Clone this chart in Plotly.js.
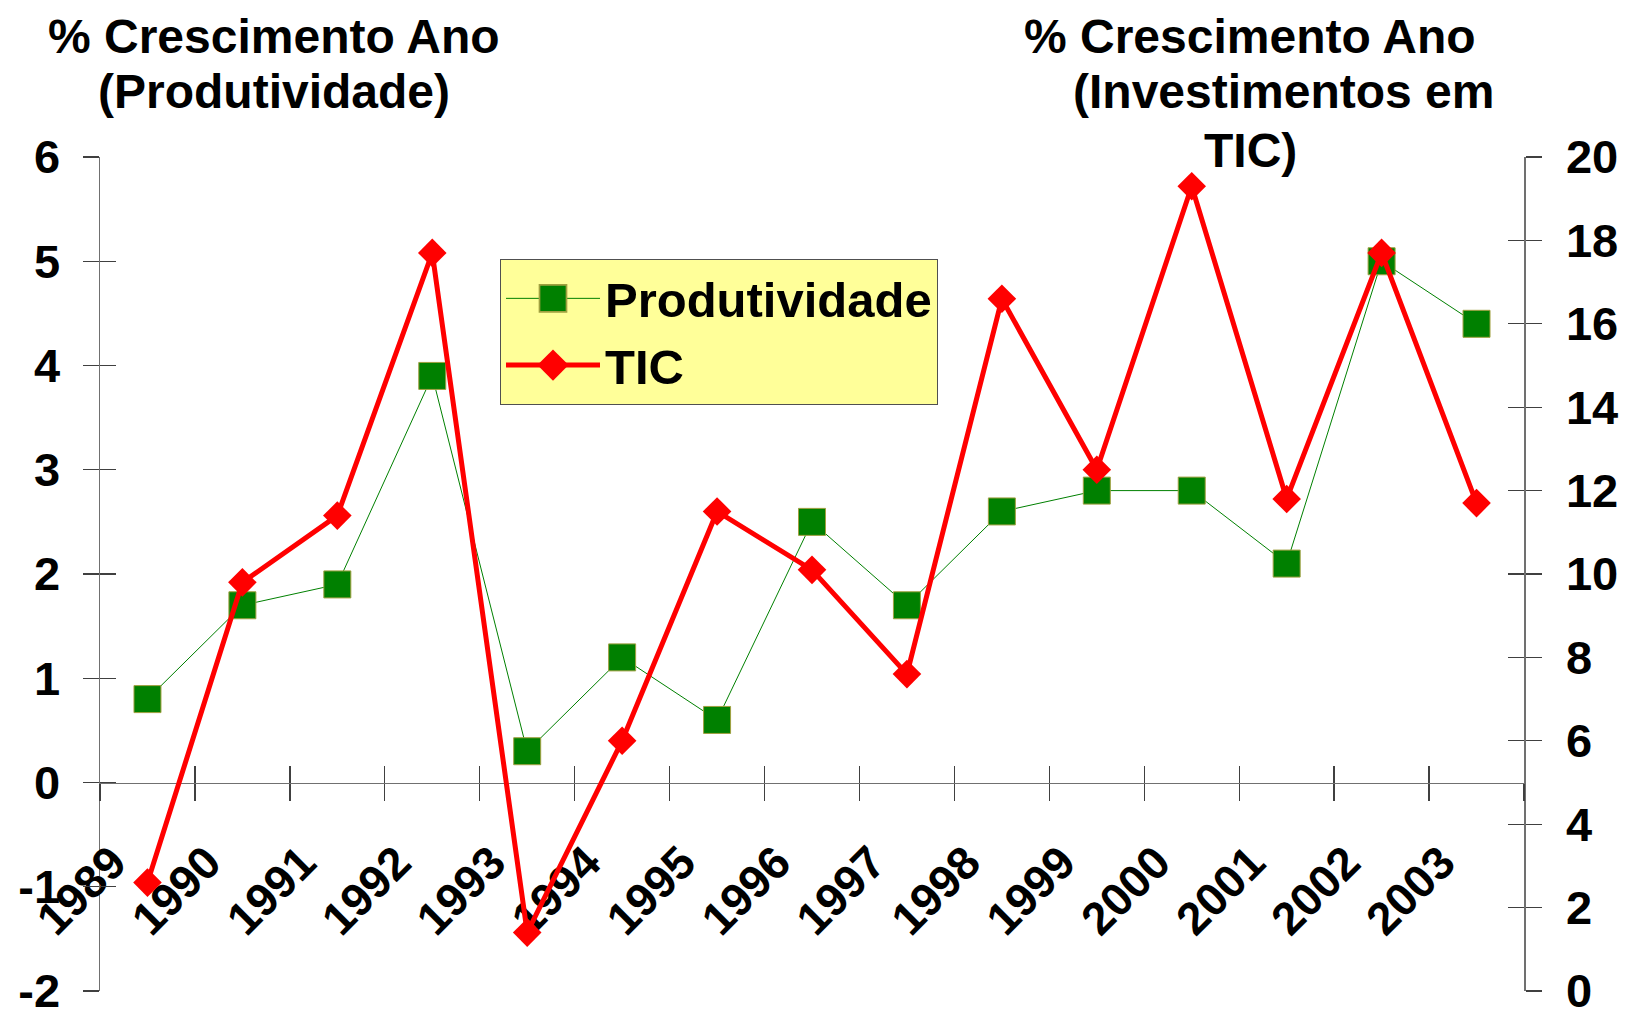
<!DOCTYPE html>
<html>
<head>
<meta charset="utf-8">
<script src="https://cdn.plot.ly/plotly-3.0.1.min.js"></script>
<style>
  html, body { margin: 0; padding: 0; background: #ffffff; }
  #chart { width: 1630px; height: 1017px; }
</style>
</head>
<body>
<div id="chart"></div>
<script>
// ---- data ----
const years = ['1989','1990','1991','1992','1993','1994','1995','1996','1997','1998','1999','2000','2001','2002','2003'];
const produtividade = [0.8, 1.7, 1.9, 3.9, 0.3, 1.2, 0.6, 2.5, 1.7, 2.6, 2.8, 2.8, 2.1, 5.0, 4.4];
const tic = [2.6, 9.8, 11.4, 17.7, 1.4, 6.0, 11.5, 10.1, 7.6, 16.6, 12.5, 19.3, 11.8, 17.7, 11.7];
const seriesNames = ['Produtividade', 'TIC'];
const leftTickVals = [-2, -1, 0, 1, 2, 3, 4, 5, 6];
const leftTickText = ['-2', '-1', '0', '1', '2', '3', '4', '5', '6'];
const rightTickVals = [0, 2, 4, 6, 8, 10, 12, 14, 16, 18, 20];
const rightTickText = ['0', '2', '4', '6', '8', '10', '12', '14', '16', '18', '20'];
const leftTitleLines = ['% Crescimento Ano', '(Produtividade)'];
const rightTitleLines = ['% Crescimento Ano', '(Investimentos em', 'TIC)'];

const FONT = 'Liberation Sans, Arial, sans-serif';
const empty = years.map(() => null);

const traces = [
  {
    type: 'scatter', mode: 'lines+markers', name: seriesNames[0],
    x: years, y: produtividade, xaxis: 'x', yaxis: 'y',
    line: { color: '#008000', width: 1 },
    marker: { symbol: 'square', size: 27, color: '#008000', line: { color: '#a0a040', width: 1 } },
    legendgroup: 'a', cliponaxis: false
  },
  {
    type: 'scatter', mode: 'lines+markers', name: seriesNames[1],
    x: years, y: tic, xaxis: 'x', yaxis: 'y2',
    line: { color: '#ff0000', width: 5 },
    marker: { symbol: 'diamond', size: 22, color: '#ff0000' },
    legendgroup: 'b', cliponaxis: false
  },
  // empty helper traces so the inner-tick overlay axes are drawn
  { type: 'scatter', mode: 'lines', x: years, y: empty, xaxis: 'x2', yaxis: 'y3', showlegend: false, hoverinfo: 'skip' },
  { type: 'scatter', mode: 'lines', x: years, y: empty, xaxis: 'x2', yaxis: 'y4', showlegend: false, hoverinfo: 'skip' }
];

const axisLine = '#707070';
const tickCol = '#404040';
const baseX = {
  type: 'category', categoryorder: 'array', categoryarray: years,
  range: [-0.5, years.length - 0.5], anchor: 'free', position: 0.25,
  tickson: 'boundaries', ticklen: 17, tickwidth: 1.3, tickcolor: tickCol,
  showgrid: false, zeroline: false, layer: 'below traces', fixedrange: true
};
const tickFontY = { family: FONT, size: 47, color: '#000', weight: 'bold' };

const annotations = [];
const titleFont = { family: FONT, size: 48, color: '#000', weight: 'bold' };
const leftY = [1.1446, 1.078];
leftTitleLines.forEach((t, i) => annotations.push({
  text: t, xref: 'paper', yref: 'paper', x: (274 - 100) / 1424, y: leftY[i],
  xanchor: 'center', yanchor: 'middle', showarrow: false, font: titleFont
}));
const rightX = [1250, 1283, 1250];
const rightY = [1.1446, 1.078, 1.008];
rightTitleLines.forEach((t, i) => annotations.push({
  text: t, xref: 'paper', yref: 'paper', x: (rightX[i] - 100) / 1424, y: rightY[i],
  xanchor: 'center', yanchor: 'middle', showarrow: false, font: titleFont
}));

const layout = {
  width: 1630, height: 1017,
  margin: { l: 100, r: 106, t: 157, b: 26, pad: 0 },
  paper_bgcolor: '#ffffff', plot_bgcolor: 'rgba(0,0,0,0)',
  font: { family: FONT, color: '#000' },
  showlegend: true,
  legend: {
    x: (500 - 100) / 1424, y: (991 - 259) / 834, xanchor: 'left', yanchor: 'top',
    bgcolor: '#ffff99', bordercolor: '#505050', borderwidth: 1,
    font: { family: FONT, size: 49, color: '#000', weight: 'bold' },
    itemwidth: 94, tracegroupgap: 0, traceorder: 'normal'
  },
  xaxis: Object.assign({}, baseX, {
    ticks: 'outside', showline: true, linecolor: axisLine, linewidth: 1.5,
    tickangle: -45, ticklabelstandoff: 33, ticklabelshift: -35, ticklabeloverflow: 'allow',
    tickfont: { family: FONT, size: 46, color: '#000', weight: 'bold' }
  }),
  xaxis2: Object.assign({}, baseX, {
    overlaying: 'x', ticks: 'inside', showline: false, showticklabels: false
  }),
  yaxis: {
    range: [-2, 6], tickmode: 'array', tickvals: leftTickVals, ticktext: leftTickText,
    ticks: 'outside', ticklen: 16, tickwidth: 1.3, tickcolor: tickCol,
    showline: true, linecolor: axisLine, linewidth: 1.5, showgrid: false, zeroline: false,
    ticklabelstandoff: 13, ticklabeloverflow: 'allow', layer: 'below traces', fixedrange: true,
    tickfont: tickFontY
  },
  yaxis2: {
    overlaying: 'y', side: 'right', anchor: 'x',
    range: [0, 20], tickmode: 'array', tickvals: rightTickVals, ticktext: rightTickText,
    ticks: 'outside', ticklen: 16, tickwidth: 1.3, tickcolor: tickCol,
    showline: true, linecolor: axisLine, linewidth: 1.5, showgrid: false, zeroline: false,
    ticklabelstandoff: 15, ticklabeloverflow: 'allow', layer: 'below traces', fixedrange: true,
    tickfont: tickFontY
  },
  yaxis3: {
    overlaying: 'y', side: 'left', anchor: 'x2',
    range: [-2, 6], tickmode: 'array', tickvals: leftTickVals, ticks: 'inside', ticklen: 16, tickwidth: 1.3, tickcolor: tickCol,
    showline: false, showgrid: false, zeroline: false, showticklabels: false, layer: 'below traces', fixedrange: true
  },
  yaxis4: {
    overlaying: 'y', side: 'right', anchor: 'x2',
    range: [0, 20], tickmode: 'array', tickvals: rightTickVals, ticks: 'inside', ticklen: 16, tickwidth: 1.3, tickcolor: tickCol,
    showline: false, showgrid: false, zeroline: false, showticklabels: false, layer: 'below traces', fixedrange: true
  },
  annotations: annotations
};

// legend symbols are capped at 16px by Plotly; enlarge them to match the chart markers
const legendMarkerScale = [27 / 16, 24 / 16];

function enlargeLegendMarkers(gd) {
  const items = gd.querySelectorAll('.legend .traces');
  items.forEach((tr, i) => {
    tr.querySelectorAll('.legendpoints path.scatterpts').forEach(p => {
      let t = p.getAttribute('transform') || '';
      t = t.replace(/\s*scale\([^)]*\)/g, '');
      p.setAttribute('transform', t + ' scale(' + legendMarkerScale[i] + ')');
    });
  });
}

Plotly.newPlot('chart', traces, layout, { displayModeBar: false, staticPlot: true }).then(gd => {
  enlargeLegendMarkers(gd);
  gd.on('plotly_afterplot', () => enlargeLegendMarkers(gd));
});
</script>
</body>
</html>
